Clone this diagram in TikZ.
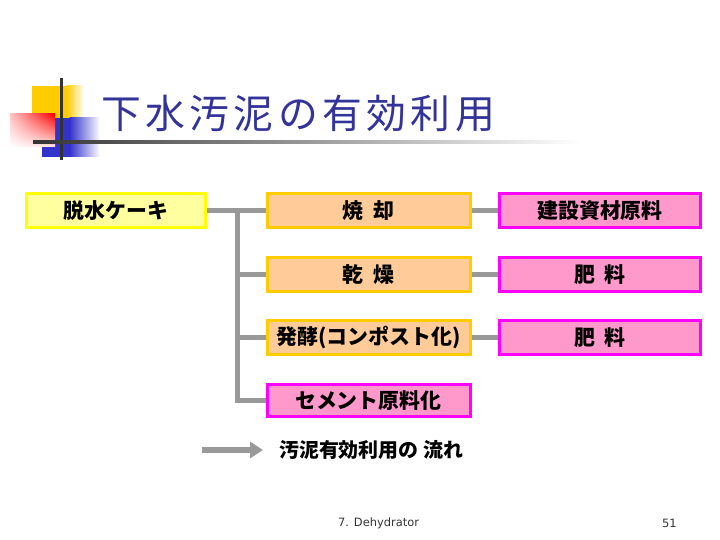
\documentclass[tikz,border=0pt]{standalone}
\usepackage{fontspec}
\newfontfamily\jp{Noto Sans CJK JP}
\newfontfamily\jptitle[LetterSpace=11]{Noto Sans CJK JP}
\newfontfamily\footfont{DejaVu Sans}
\usetikzlibrary{arrows.meta,shadings}
\definecolor{titleblue}{HTML}{333399}
\definecolor{ybord}{HTML}{FFFF00}
\definecolor{yfill}{HTML}{FFFFA0}
\definecolor{obord}{HTML}{FFCC00}
\definecolor{ofill}{HTML}{FFCC99}
\definecolor{mbord}{HTML}{FF00FF}
\definecolor{mfill}{HTML}{FF99CC}
\definecolor{conngray}{HTML}{999999}
\definecolor{decoyellow}{HTML}{FFCC00}
\definecolor{decoblue}{HTML}{3333CC}
\definecolor{decodark}{HTML}{333333}
\definecolor{decopink}{HTML}{FFC4C4}
\definecolor{decopale}{HTML}{FFE4E4}
\tikzset{
  boxbase/.style={line width=3bp, inner sep=0pt, minimum height=34bp,
    font=\jp\bfseries\fontsize{21}{23}\selectfont, text=black},
  cakebox/.style={boxbase, draw=ybord, fill=yfill, minimum width=179bp},
  procbox/.style={boxbase, draw=obord, fill=ofill, minimum width=203bp},
  usebox/.style={boxbase, draw=mbord, fill=mfill, minimum width=201bp},
  cembox/.style={boxbase, draw=mbord, fill=mfill, minimum width=203bp, minimum height=32bp},
  conn/.style={draw=conngray, line width=5bp, line join=miter},
}
\newcommand{\gapsp}{\hspace{0.45em}}
\begin{document}
\begin{tikzpicture}[x=1bp,y=-1bp]
\useasboundingbox (0,0) rectangle (720,540);
% title decoration
\fill[decoyellow] (32,86) rectangle (67,118);
\shade[left color=decoyellow, right color=white] (66.5,86) rectangle (84,118);
\fill[decoblue] (42,118) rectangle (70,157);
\shade[left color=decoblue, right color=white] (69.5,118) rectangle (100,157);
\shade[upper right=red, upper left=decopink, lower left=white, lower right=decopale] (10,114) rectangle (55,147);
\draw[decodark, line width=3bp] (61,78) -- (61,160);
\shade[left color=decodark, right color=white] (33,140.5) rectangle (580,143.5);
\node[anchor=west, inner sep=0pt, text=titleblue, font=\jptitle\fontsize{40}{44}\selectfont] (title) at (101,113) {下水汚泥の有効利用};
% boxes
\node[cakebox] (cake) at (116,210.5) {脱水ケーキ};
\node[procbox] (yaki) at (368.5,210.5) {焼\gapsp 却};
\node[procbox] (kan) at (368.5,274.5) {乾\gapsp 燥};
\node[procbox] (hak) at (368.5,337.5) {発酵(コンポスト化)};
\node[cembox] (cem) at (368.5,400.5) {セメント原料化};
\node[usebox] (ken) at (600,210.5) {建設資材原料};
\node[usebox] (hi1) at (600,274.5) {肥\gapsp 料};
\node[usebox] (hi2) at (600,337.5) {肥\gapsp 料};
% connectors
\coordinate (jn) at (237,210.5);
\draw[conn] (cake.east) -- (yaki.west);
\draw[conn] (jn) |- (cem.west);
\draw[conn] (jn |- kan.west) -- (kan.west);
\draw[conn] (jn |- hak.west) -- (hak.west);
\draw[conn] (yaki.east) -- (ken.west);
\draw[conn] (kan.east) -- (hi1.west);
\draw[conn] (hak.east) -- (hi2.west);
% legend
\coordinate (la) at (202,450);
\coordinate (lb) at (263,450);
\draw[draw=conngray, line width=6bp, -{Triangle[length=13bp, width=16bp]}] (la) -- (lb);
\node[anchor=west, inner sep=0pt, font=\jp\bfseries\fontsize{20}{22}\selectfont] (leg) at (279,450) {汚泥有効利用の 流れ};
% footer
\node[anchor=west, inner sep=0pt, font=\footfont\fontsize{11.5}{13}\selectfont, text=decodark] (foot) at (338,523) {7. Dehydrator};
\node[anchor=west, inner sep=0pt, font=\footfont\fontsize{11.5}{13}\selectfont, text=decodark] (page) at (662,523) {51};
\end{tikzpicture}
\end{document}
